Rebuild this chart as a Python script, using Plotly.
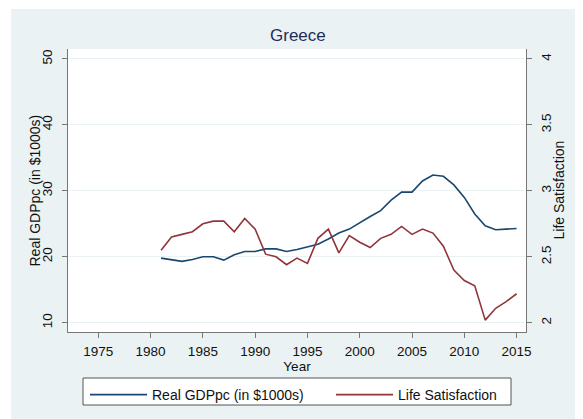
import plotly.graph_objects as go

# Greece: real GDP per capita vs life satisfaction
years = list(range(1981, 2016))
gdp_pc = [19.8, 19.6, 19.3, 19.6, 20.0, 20.0, 19.5, 20.3, 20.8, 20.8,
          21.2, 21.2, 20.8, 21.1, 21.5, 21.9, 22.7, 23.6, 24.2, 25.2,
          26.1, 27.0, 28.6, 29.8, 29.8, 31.5, 32.4, 32.2, 30.9, 29.0,
          26.5, 24.7, 24.1, 24.2, 24.3]
life_sat = [2.55, 2.65, 2.67, 2.69, 2.75, 2.77, 2.77, 2.69, 2.79, 2.71,
            2.52, 2.50, 2.44, 2.49, 2.45, 2.64, 2.71, 2.53, 2.66, 2.61,
            2.57, 2.64, 2.67, 2.73, 2.67, 2.71, 2.68, 2.58, 2.40, 2.32,
            2.28, 2.02, 2.11, 2.16, 2.22]

x_ticks = [1975, 1980, 1985, 1990, 1995, 2000, 2005, 2010, 2015]
gdp_ticks = [10, 20, 30, 40, 50]
ls_ticks = [2, 2.5, 3, 3.5, 4]
ls_labels = ["2", "2.5", "3", "3.5", "4"]

NAVY = "#1a476f"
MAROON = "#90353b"
PANEL = "#eaf2f3"
AXIS = "#777777"
FONT = "Liberation Sans, Arial, sans-serif"

# page body margin (8px) shifts the figure, so size it to fit the window
OFF = 8
W, H = 583 - OFF, 419 - OFF
L, R, T, B = 68 - OFF, 57, 49 - OFF, 87
pw, ph = W - L - R, H - T - B


def px_x(p):
    # p: pixel x in the 583x419 window
    return (p - OFF - L) / pw


def px_y(p):
    return (H - B - (p - OFF)) / ph


fig = go.Figure()
fig.add_trace(go.Scatter(x=years, y=gdp_pc, mode="lines", name="Real GDPpc (in $1000s)",
                         line=dict(color=NAVY, width=1.6), legend="legend"))
fig.add_trace(go.Scatter(x=years, y=life_sat, mode="lines", name="Life Satisfaction",
                         yaxis="y2", line=dict(color=MAROON, width=1.6), legend="legend2"))

axis_common = dict(showline=True, linecolor=AXIS, linewidth=1, ticks="outside",
                   ticklen=5, tickcolor=AXIS, tickfont=dict(size=13.5, color="#111111"),
                   zeroline=False)

legend_common = dict(orientation="h", xref="container", yref="container",
                     xanchor="left", y=1 - (379 - OFF) / H, yanchor="top",
                     bgcolor="rgba(0,0,0,0)", borderwidth=0, itemwidth=57,
                     font=dict(size=14))

fig.update_layout(
    width=W, height=H,
    margin=dict(l=L, r=R, t=T, b=B, autoexpand=False),
    paper_bgcolor=PANEL, plot_bgcolor="white",
    font=dict(family=FONT, color="#111111"),
    xaxis=dict(range=[1972.1, 2015.9], tickvals=x_ticks, showgrid=False,
               ticklabelstandoff=2,
               title=dict(text="Year", font=dict(size=13.5), standoff=0),
               **axis_common),
    yaxis=dict(range=[8.6, 51.5], tickvals=gdp_ticks, tickangle=-90,
               showgrid=True, gridcolor=PANEL, gridwidth=1, ticklabelstandoff=5,
               **axis_common),
    yaxis2=dict(range=[2 + (8.6 - 10) / 20, 2 + (51.5 - 10) / 20], tickvals=ls_ticks,
                ticktext=ls_labels, tickangle=-90, overlaying="y", side="right",
                showgrid=False, ticklabelstandoff=3,
                **axis_common),
    showlegend=True,
    legend=dict(x=(85 - OFF) / W, **legend_common),
    legend2=dict(x=(331 - OFF) / W, **legend_common),
    annotations=[
        dict(text="Greece", xref="paper", yref="paper", x=px_x(298), y=px_y(35),
             xanchor="center", yanchor="middle", showarrow=False,
             font=dict(size=17, color="#1e2d5a")),
        dict(text="Real GDPpc (in $1000s)", xref="paper", yref="paper",
             x=px_x(34), y=0.5, textangle=-90, xanchor="center", yanchor="middle",
             showarrow=False, font=dict(size=14)),
        dict(text="Life Satisfaction", xref="paper", yref="paper",
             x=px_x(558), y=0.5, textangle=-90, xanchor="center", yanchor="middle",
             showarrow=False, font=dict(size=14)),
    ],
    shapes=[
        dict(type="rect", xref="paper", yref="paper", x0=-0.2, x1=px_x(11),
             y0=-0.4, y1=1.25, fillcolor="white", line=dict(width=0), layer="below"),
        dict(type="rect", xref="paper", yref="paper", x0=-0.2, x1=1.2,
             y0=px_y(9), y1=1.25, fillcolor="white", line=dict(width=0), layer="below"),
        dict(type="rect", xref="paper", yref="paper", x0=px_x(83), x1=px_x(511),
             y0=px_y(405), y1=px_y(378), fillcolor="white",
             line=dict(color="#555555", width=1), layer="below"),
    ],
)

fig.write_html("out.html")
